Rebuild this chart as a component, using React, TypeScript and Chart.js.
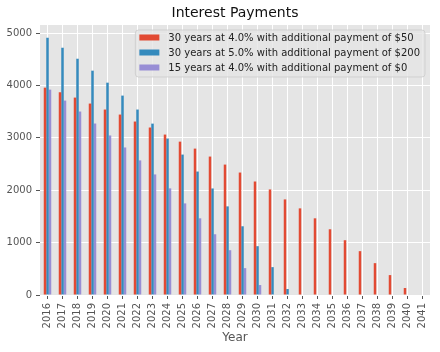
import React, { useEffect, useRef } from "react";
import { Chart, registerables } from "chart.js";

Chart.register(...registerables);

const years = [
  "2016", "2017", "2018", "2019", "2020", "2021", "2022", "2023", "2024", "2025",
  "2026", "2027", "2028", "2029", "2030", "2031", "2032", "2033", "2034", "2035",
  "2036", "2037", "2038", "2039", "2040", "2041",
];

const seriesLabels = [
  "30 years at 4.0% with additional payment of $50",
  "30 years at 5.0% with additional payment of $200",
  "15 years at 4.0% with additional payment of $0",
];

const payments30at4 = [
  3959, 3871, 3769, 3655, 3541, 3445, 3312, 3198, 3063, 2928,
  2795, 2643, 2490, 2338, 2167, 2015, 1825, 1654, 1464, 1255,
  1046, 837, 608, 380, 133, 0,
];

const payments30at5 = [
  4911, 4721, 4511, 4283, 4054, 3807, 3541, 3272, 2987, 2681,
  2357, 2034, 1692, 1312, 932, 532, 114, 0, 0, 0,
  0, 0, 0, 0, 0, 0,
];

const payments15at4 = [
  3921, 3712, 3503, 3274, 3046, 2817, 2570, 2302, 2036, 1749,
  1464, 1160, 855, 513, 190, 0, 0, 0, 0, 0,
  0, 0, 0, 0, 0, 0,
];

const yTicks = [0, 1000, 2000, 3000, 4000, 5000];

const colors = ["#E24A33", "#348ABD", "#988ED5"];
const FONT = "'DejaVu Sans', 'Liberation Sans', sans-serif";

const bgPlugin = {
  id: "axesBg",
  beforeDraw(chart: any) {
    const { ctx, chartArea } = chart;
    ctx.save();
    ctx.fillStyle = "#E5E5E5";
    ctx.fillRect(chartArea.left, chartArea.top, chartArea.right - chartArea.left, chartArea.bottom - chartArea.top);
    ctx.restore();
  },
};

const legendPlugin = {
  id: "innerLegend",
  afterDraw(chart: any) {
    const { ctx, chartArea } = chart;
    const ds = chart.data.datasets;
    ctx.save();
    ctx.font = `10px ${FONT}`;
    let maxW = 0;
    ds.forEach((d: any) => {
      maxW = Math.max(maxW, ctx.measureText(d.label).width);
    });
    const rowH = 15;
    const padX = 4;
    const handleW = 20;
    const gap = 9;
    const boxW = padX + handleW + gap + maxW + 5;
    const boxH = rowH * ds.length + 2;
    const right = chartArea.right - 5;
    const top = chartArea.top + 5;
    const left = right - boxW;
    const r = 3;
    ctx.beginPath();
    ctx.moveTo(left + r, top);
    ctx.lineTo(right - r, top);
    ctx.quadraticCurveTo(right, top, right, top + r);
    ctx.lineTo(right, top + boxH - r);
    ctx.quadraticCurveTo(right, top + boxH, right - r, top + boxH);
    ctx.lineTo(left + r, top + boxH);
    ctx.quadraticCurveTo(left, top + boxH, left, top + boxH - r);
    ctx.lineTo(left, top + r);
    ctx.quadraticCurveTo(left, top, left + r, top);
    ctx.closePath();
    ctx.fillStyle = "rgba(229,229,229,0.8)";
    ctx.fill();
    ctx.strokeStyle = "rgba(204,204,204,0.8)";
    ctx.lineWidth = 1;
    ctx.stroke();
    ds.forEach((d: any, i: number) => {
      const cy = top + 7.5 + rowH * i;
      ctx.fillStyle = d.backgroundColor;
      ctx.fillRect(left + padX, cy - 3, handleW, 6);
      ctx.fillStyle = "#222222";
      ctx.textBaseline = "middle";
      ctx.textAlign = "left";
      ctx.fillText(d.label, left + padX + handleW + gap, cy + 0.5);
    });
    ctx.restore();
  },
};

export default function App() {
  const canvasRef = useRef<HTMLCanvasElement | null>(null);

  useEffect(() => {
    document.body.style.margin = "0";
    const canvas = canvasRef.current;
    if (!canvas) return;
    const chart = new Chart(canvas, {
      type: "bar",
      data: {
        labels: years,
        datasets: [payments30at4, payments30at5, payments15at4].map((vals, i) => ({
          label: seriesLabels[i],
          data: vals,
          backgroundColor: colors[i],
          borderWidth: 0,
          categoryPercentage: 0.5,
          barPercentage: 1.0,
        })),
      },
      options: {
        animation: false,
        responsive: false,
        maintainAspectRatio: false,
        layout: { padding: { left: 0, right: 10, top: 0, bottom: 0 } },
        plugins: {
          legend: { display: false },
          tooltip: { enabled: false },
          title: {
            display: true,
            text: "Interest Payments",
            fullSize: false,
            color: "#111111",
            font: { family: FONT, size: 14, weight: "normal" },
            padding: { top: 5, bottom: 3.2 },
          },
        },
        scales: {
          x: {
            afterFit(scale: any) {
              scale.height = 57;
            },
            grid: {
              offset: false,
              color: "#FFFFFF",
              lineWidth: 1,
              drawTicks: true,
              tickColor: "#555555",
              tickLength: 4,
            },
            border: { display: false },
            ticks: {
              autoSkip: false,
              minRotation: 90,
              maxRotation: 90,
              padding: 4,
              color: "#555555",
              font: { family: FONT, size: 10 },
            },
            title: {
              display: true,
              text: "Year",
              color: "#555555",
              font: { family: FONT, size: 12 },
              padding: { top: 0, bottom: 6.8 },
            },
          },
          y: {
            min: 0,
            max: 5155,
            afterFit(scale: any) {
              scale.width = 40;
            },
            afterBuildTicks(scale: any) {
              scale.ticks = yTicks.map((v) => ({ value: v }));
            },
            grid: {
              color: "#FFFFFF",
              lineWidth: 1,
              drawTicks: true,
              tickColor: "#555555",
              tickLength: 4,
            },
            border: { display: false },
            ticks: {
              padding: 4,
              color: "#555555",
              font: { family: FONT, size: 10 },
              callback: (v: any) => String(v),
            },
          },
        },
      },
      plugins: [bgPlugin, legendPlugin],
    } as any);
    return () => {
      chart.destroy();
    };
  }, []);

  return (
    <div style={{ width: 440, height: 352 }}>
      <canvas ref={canvasRef} width={440} height={352} style={{ display: "block" }} />
    </div>
  );
}
